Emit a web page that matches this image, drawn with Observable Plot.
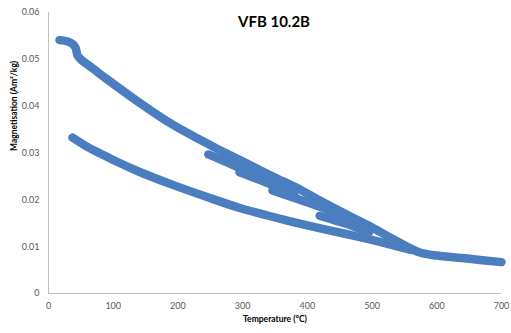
<!DOCTYPE html>
<html>
<head>
<meta charset="utf-8">
<script src="https://cdn.jsdelivr.net/npm/d3@7"></script>
<script src="https://cdn.jsdelivr.net/npm/@observablehq/plot@0.6"></script>
<style>
  html, body { margin: 0; padding: 0; background: #fff; }
  #chart { width: 511px; height: 333px; }
</style>
</head>
<body>
<div id="chart"></div>
<script>
// ---- data ----
const title = "VFB 10.2B";
const xLabel = "Temperature (°C)";
const yLabel = "Magnetisation (Am²/kg)";

const xTicks = [0, 100, 200, 300, 400, 500, 600, 700];
const xTickLabels = ["0", "100", "200", "300", "400", "500", "600", "700"];
const yTicks = [0, 0.01, 0.02, 0.03, 0.04, 0.05, 0.06];
const yTickLabels = ["0", "0.01", "0.02", "0.03", "0.04", "0.05", "0.06"];

// main upper curve
const upperT = [17, 30, 38, 42, 45, 50, 70, 90, 140, 190, 240, 266, 300, 345, 390, 420, 460, 500, 530, 560, 575, 600, 650, 700];
const upperM = [0.0541, 0.0538, 0.0532, 0.0524, 0.0508, 0.0500, 0.0479, 0.0458, 0.0408, 0.0362, 0.0324, 0.0305, 0.0282, 0.0251, 0.0221, 0.0198, 0.0169, 0.0141, 0.0118, 0.0096, 0.0087, 0.0081, 0.0074, 0.0067];

// lower (final) curve
const lowerT = [37, 60, 80, 100, 140, 190, 245, 297, 340, 380, 420, 460, 498, 530, 560];
const lowerM = [0.0333, 0.0313, 0.0299, 0.0285, 0.0260, 0.0233, 0.0206, 0.0182, 0.0166, 0.0152, 0.0139, 0.0127, 0.0115, 0.0104, 0.0093];

// partial branches
const branchAT = [247, 266, 300, 340, 370];
const branchAM = [0.0297, 0.0286, 0.0265, 0.0240, 0.0222];
const branchBT = [295, 320, 345, 380];
const branchBM = [0.0259, 0.0246, 0.0232, 0.0212];
const branchCT = [346, 380, 420, 460, 490];
const branchCM = [0.0220, 0.0204, 0.0185, 0.0162, 0.0146];
const branchDT = [419, 445, 470, 495];
const branchDM = [0.0166, 0.0155, 0.0144, 0.0130];

// ---- build table ----
function series(name, T, M) { return T.map((t, i) => ({series: name, T: t, M: M[i]})); }
const rows = [
  ...series("upper", upperT, upperM),
  ...series("lower", lowerT, lowerM),
  ...series("A", branchAT, branchAM),
  ...series("B", branchBT, branchBM),
  ...series("C", branchCT, branchCM),
  ...series("D", branchDT, branchDM)
];

const blue = "#4a7ebf";
const font = "Lato, 'Open Sans', sans-serif";

const chart = Plot.plot({
  width: 511,
  height: 333,
  marginLeft: 48,
  marginRight: 10,
  marginTop: 12,
  marginBottom: 40,
  style: {fontFamily: font, background: "#fff"},
  x: {domain: [0, 700]},
  y: {domain: [0, 0.06]},
  marks: [
    Plot.ruleX([0], {stroke: "#bfbfbf", strokeWidth: 1}),
    Plot.ruleY([0], {stroke: "#bfbfbf", strokeWidth: 1}),
    Plot.axisX({ticks: xTicks, tickFormat: (d) => xTickLabels[xTicks.indexOf(d)], tickSize: 0, tickPadding: 9, label: null, fontSize: 9, fill: "#595959"}),
    Plot.axisY({ticks: yTicks, tickFormat: (d) => yTickLabels[yTicks.indexOf(d)], tickSize: 0, tickPadding: 9, label: null, fontSize: 9, fill: "#595959"}),
    Plot.line(rows, {x: "T", y: "M", z: "series", stroke: blue, strokeWidth: 8.5, strokeLinecap: "round", strokeLinejoin: "round", curve: "catmull-rom"}),
    Plot.text([title], {frameAnchor: "top", dx: -1, dy: 4, fontSize: 15, fontWeight: "bold", fill: "#000"}),
    Plot.text([xLabel], {frameAnchor: "bottom", dx: 0, dy: 28, fontSize: 8.5, fontWeight: "bold", fill: "#000"}),
    Plot.text([yLabel], {frameAnchor: "left", dx: -34, dy: -2, rotate: -90, fontSize: 8.5, fontWeight: "bold", fill: "#000"})
  ]
});
document.getElementById("chart").appendChild(chart);
</script>
</body>
</html>
